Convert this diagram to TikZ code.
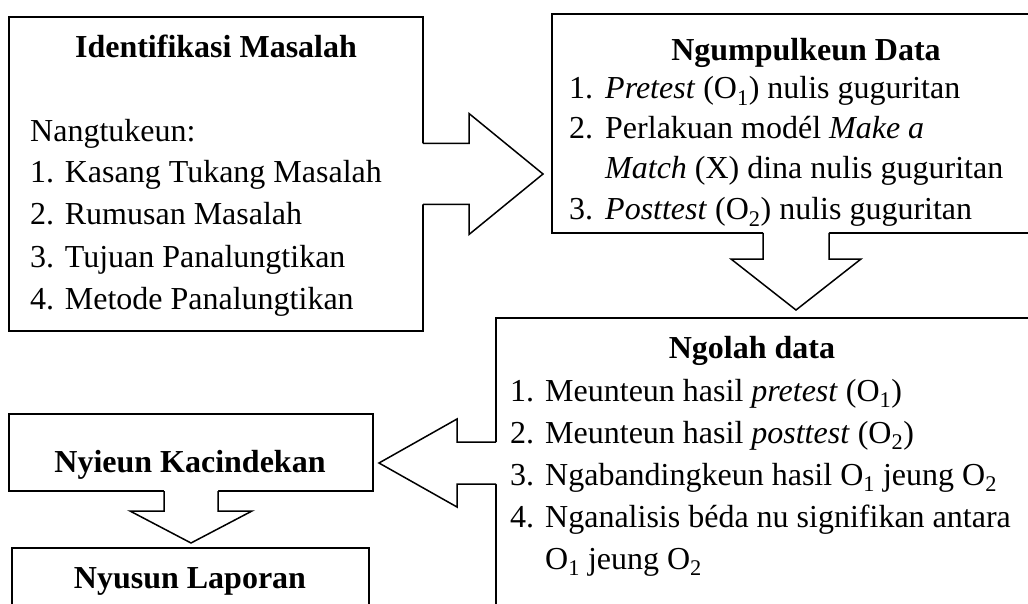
\documentclass[tikz,border=0pt]{standalone}
\usepackage{fontspec}
\setmainfont{Liberation Serif}
\usetikzlibrary{calc}

\tikzset{
	frame/.style={draw, line width=1.5pt, rectangle, inner sep=0pt, outer sep=0pt, anchor=north west},
	title/.style={font=\fontsize{32}{38}\selectfont\bfseries, anchor=base, inner sep=0pt},
	txt/.style={font=\fontsize{32}{38}\selectfont, anchor=base west, inner sep=0pt},
}

% open block arrow: base, tip, half shaft, half head, head length
\newcommand{\blockarrow}[5]{%
	\path ($(#2)!#5!(#1)$) coordinate (hb)
		($(#1)!#3!90:(#2)$) coordinate (b1)
		($(#1)!#3!-90:(#2)$) coordinate (b2)
		($(hb)!#3!90:(#2)$) coordinate (s1)
		($(hb)!#3!-90:(#2)$) coordinate (s2)
		($(hb)!#4!90:(#2)$) coordinate (h1)
		($(hb)!#4!-90:(#2)$) coordinate (h2);
	\fill[white] ($(b1)!-2pt!(s1)$) -- (s1) -- (h1) -- (#2) -- (h2) -- (s2) -- ($(b2)!-2pt!(s2)$) -- cycle;
	\draw[line width=1.5pt] (b1) -- (s1) -- (h1) -- (#2) -- (h2) -- (s2) -- (b2);
}

\begin{document}
\begin{tikzpicture}[x=1pt, y=-1pt]
	\useasboundingbox (0,0) rectangle (1028,604);
	\clip (0,0) rectangle (1028,604);

	% boxes
	\node[frame, minimum width=414pt, minimum height=314pt] (ident) at (9,17) {};
	\node[frame, minimum width=488pt, minimum height=219pt] (collect) at (552,14) {};
	\node[frame, minimum width=544pt, minimum height=290pt] (process) at (496,318) {};
	\node[frame, minimum width=364pt, minimum height=77pt] (conclude) at (9,414) {};
	\node[frame, minimum width=357pt, minimum height=72pt] (report) at (12,548) {};

	% Identifikasi Masalah
	\node[title] (ident-title) at (216,58) {Identifikasi Masalah};
	\node[txt] (ident-0) at (30,142) {Nangtukeun:};
	\foreach \entry [count=\i] in {Kasang Tukang Masalah, Rumusan Masalah, Tujuan Panalungtikan, Metode Panalungtikan}
	{
		\node[txt] (ident-\i) at (30,141+42*\i) {\i. \entry};
	}

	% Ngumpulkeun Data
	\node[title] (collect-title) at (806,61) {Ngumpulkeun Data};
	\foreach \i/\y in {1/99, 2/139, 3/220}
	{
		\node[txt] (collect-n\i) at (569,\y) {\i.};
	}
	\node[txt] (collect-1) at (605,99) {\textit{Pretest} (O\textsubscript{1}) nulis guguritan};
	\node[txt] (collect-2) at (605,139) {Perlakuan modél \textit{Make a}};
	\node[txt] (collect-2b) at (605,179) {\textit{Match} (X) dina nulis guguritan};
	\node[txt] (collect-3) at (605,220) {\textit{Posttest} (O\textsubscript{2}) nulis guguritan};

	% Ngolah data
	\node[title] (process-title) at (752,358) {Ngolah data};
	\foreach \entry [count=\i] in {Meunteun hasil \textit{pretest} (O\textsubscript{1}), Meunteun hasil \textit{posttest} (O\textsubscript{2}), Ngabandingkeun hasil O\textsubscript{1} jeung O\textsubscript{2}, Nganalisis béda nu signifikan antara}
	{
		\node[txt] (process-n\i) at (510,359+42*\i) {\i.};
		\node[txt] (process-\i) at (545,359+42*\i) {\entry};
	}
	\node[txt] (process-4b) at (545,569) {O\textsubscript{1} jeung O\textsubscript{2}};

	% Kacindekan & Laporan
	\node[title] (conclude-title) at (190,472) {Nyieun Kacindekan};
	\node[title] (report-title) at (190,588) {Nyusun Laporan};

	% block arrows
	\coordinate (a1-base) at (ident.east);
	\coordinate (a1-tip) at ($(ident.east -| collect.west)+(-9,0)$);
	\blockarrow{a1-base}{a1-tip}{30.5pt}{60.5pt}{74pt}
	\coordinate (a2-base) at (collect.south);
	\coordinate (a2-tip) at ($(collect.south |- process.north)+(0,-8)$);
	\blockarrow{a2-base}{a2-tip}{33pt}{65pt}{51pt}
	\coordinate (a3-base) at (process.west);
	\coordinate (a3-tip) at ($(conclude.east |- process.west)+(6,0)$);
	\blockarrow{a3-base}{a3-tip}{21pt}{44pt}{78pt}
	\coordinate (a4-base) at (conclude.south);
	\coordinate (a4-tip) at ($(conclude.south |- report.north)+(0,-5)$);
	\blockarrow{a4-base}{a4-tip}{27pt}{61pt}{32pt}
\end{tikzpicture}
\end{document}
